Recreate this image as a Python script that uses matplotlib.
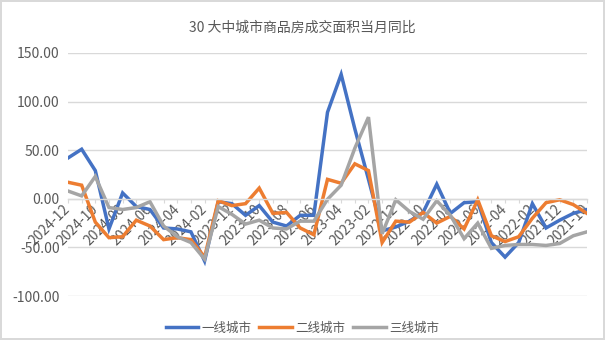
import matplotlib
matplotlib.use('Agg')
import matplotlib.pyplot as plt
import numpy as np

plt.rcParams['font.family'] = ['Noto Sans CJK SC', 'DejaVu Sans']

# Monthly YoY change (%) of commercial housing floor area sold, newest first
months = ["2024-12", "2024-11", "2024-10", "2024-09", "2024-08", "2024-07", "2024-06",
          "2024-05", "2024-04", "2024-03", "2024-02", "2024-01", "2023-12", "2023-11",
          "2023-10", "2023-09", "2023-08", "2023-07", "2023-06", "2023-05", "2023-04",
          "2023-03", "2023-02", "2023-01", "2022-12", "2022-11", "2022-10", "2022-09",
          "2022-08", "2022-07", "2022-06", "2022-05", "2022-04", "2022-03", "2022-02",
          "2022-01", "2021-12", "2021-11", "2021-10"]
tier1 = [42, 51, 29, -31, 6, -8, -11, -30, -31, -34, -64, -3, -5, -17, -7, -24, -28, -17, -17,
         89, 128, 72, 20, -33, -29, -23, -14, 15, -15, -4, -3, -45, -60, -45, -5, -30, -22, -15, -11]
tier2 = [17, 14, -24, -40, -39, -22, -28, -42, -40, -42, -60, -2, -7, -5, 11, -15, -14, -30, -37,
         20, 16, 36, 29, -45, -23, -24, -14, -25, -18, -31, -1, -38, -44, -39, -20, -4, -1, -6, -15]
tier3 = [8, 3, 23, -9, -11, -9, -3, -28, -39, -45, -62, -8, -16, -26, -22, -30, -31, -23, -23,
         -0.5, 14, 52, 84, -36, -1, -13, -21, -2, -17, -41, -25, -51, -48, -47, -47, -48, -46, -38, -34]

series = [("一线城市", tier1, "#4472C4"),
          ("二线城市", tier2, "#ED7D31"),
          ("三线城市", tier3, "#A5A5A5")]

text_color = "#595959"
grid_color = "#D9D9D9"

fig = plt.figure(figsize=(6.05, 3.40), dpi=100)
fig.patch.set_edgecolor(grid_color)
fig.patch.set_linewidth(1.5)
ax = fig.add_axes([68 / 605, 44 / 340, 519 / 605, 243 / 340])

x = np.arange(len(months))
for name, vals, color in series:
    ax.plot(x, vals, color=color, linewidth=2.5, label=name, solid_joinstyle='miter')

ax.set_xlim(0, len(months) - 1)
ax.set_ylim(-100, 150)
ax.set_yticks([-100, -50, 0, 50, 100, 150])
ax.set_yticklabels([f"{v:.2f}" for v in [-100, -50, 0, 50, 100, 150]])
ax.yaxis.grid(True, color=grid_color, linewidth=1)
ax.set_axisbelow(True)

# category axis crosses at zero
for side in ['left', 'right', 'top']:
    ax.spines[side].set_visible(False)
ax.spines['bottom'].set_position(('data', 0))
ax.spines['bottom'].set_color(grid_color)
ax.spines['bottom'].set_linewidth(1)

ax.set_xticks(x)
ax.set_xticklabels([m if i % 2 == 0 else "" for i, m in enumerate(months)],
                   rotation=45, ha='right', va='center', rotation_mode='anchor')
ax.tick_params(axis='x', length=3, color=grid_color, labelsize=10, labelcolor=text_color, pad=3)
ax.tick_params(axis='y', length=0, labelsize=10, labelcolor=text_color, pad=6)

fig.text(0.5, 1 - 28 / 340, "30 大中城市商品房成交面积当月同比", ha='center', va='center',
         fontsize=10, color=text_color)

fig.legend(loc='center', bbox_to_anchor=(0.5, 1 - 328 / 340), ncol=3, frameon=False,
           fontsize=9, labelcolor=text_color, handlelength=2.6, handletextpad=0.3,
           columnspacing=0.6)

plt.savefig("out.png", dpi=100)
